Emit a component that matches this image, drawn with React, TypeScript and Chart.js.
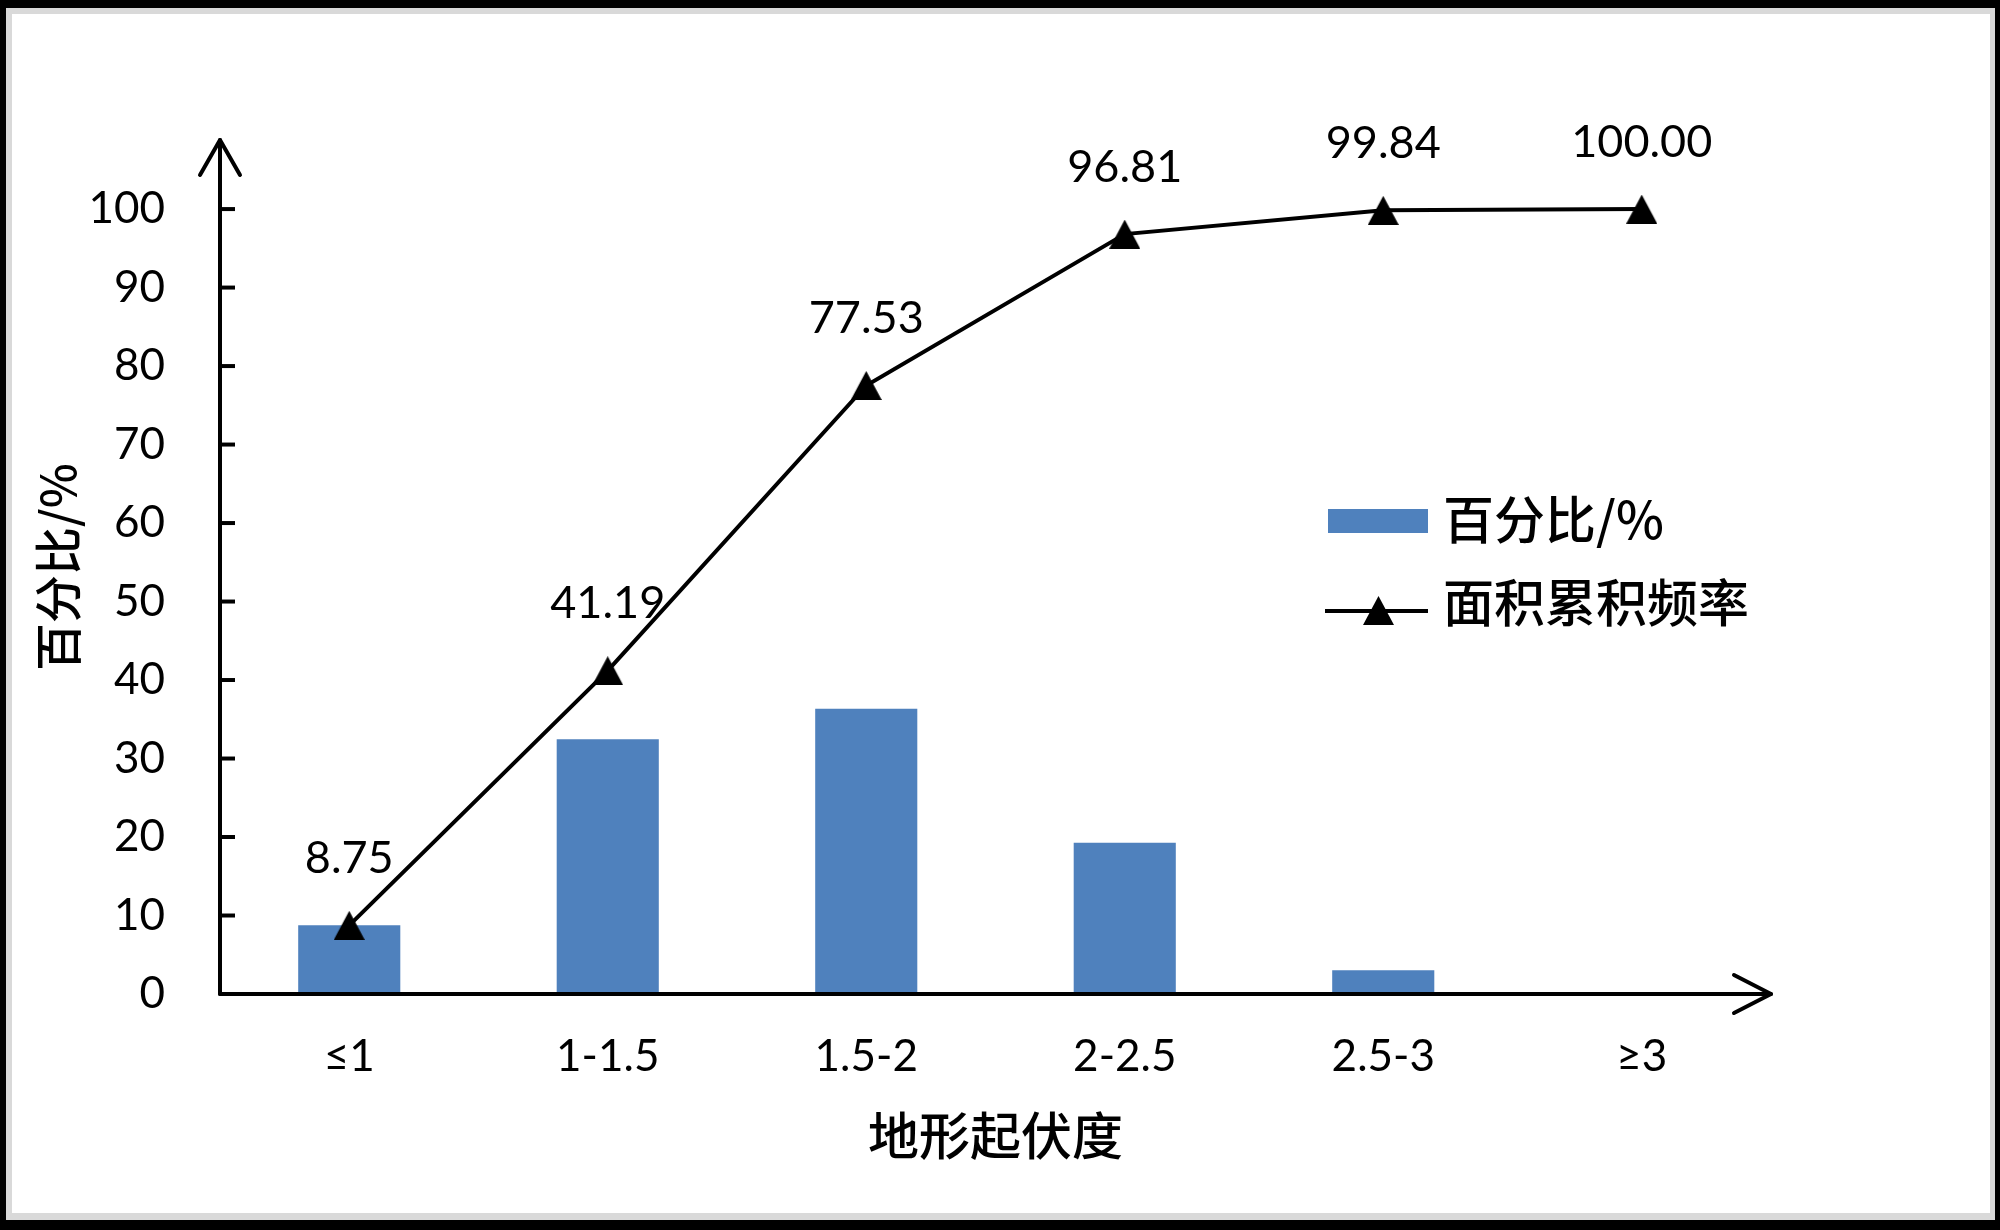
import React, { useEffect, useRef } from "react";
import { Chart, registerables } from "chart.js";

Chart.register(...registerables);

const categories = ["≤1", "1-1.5", "1.5-2", "2-2.5", "2.5-3", "≥3"];
const percentValues = [8.75, 32.44, 36.34, 19.28, 3.03, 0.16];
const cumulativeValues = [8.75, 41.19, 77.53, 96.81, 99.84, 100.0];
const cumulativeLabels = ["8.75", "41.19", "77.53", "96.81", "99.84", "100.00"];
const yTickValues = [0, 10, 20, 30, 40, 50, 60, 70, 80, 90, 100];

const barLabel = "百分比/%";
const lineLabel = "面积累积频率";
const xTitle = "地形起伏度";
const yTitle = "百分比/%";

const NUM_FONT = "Lato, 'Open Sans', sans-serif";
const CJK_FONT = "'Noto Sans CJK SC', sans-serif";
const BAR_COLOR = "#4F81BD";

function makeTriangle(w: number, h: number): HTMLCanvasElement {
  const c = document.createElement("canvas");
  c.width = w;
  c.height = h;
  const g = c.getContext("2d")!;
  g.fillStyle = "#000";
  g.beginPath();
  g.moveTo(w / 2, 0);
  g.lineTo(w, h);
  g.lineTo(0, h);
  g.closePath();
  g.fill();
  return c;
}

export default function App() {
  const ref = useRef<HTMLCanvasElement | null>(null);

  useEffect(() => {
    document.body.style.margin = "0";
    const canvas = ref.current!;
    const tri = makeTriangle(31, 29);

    const framePlugin = {
      id: "frame",
      beforeDraw(chart: any) {
        const ctx = chart.ctx;
        ctx.save();
        ctx.fillStyle = "#000";
        ctx.fillRect(0, 0, 2000, 1230);
        ctx.fillStyle = "#d9d9d9";
        ctx.fillRect(6, 8, 1989, 1212);
        ctx.fillStyle = "#fff";
        ctx.fillRect(12, 14, 1978, 1199);
        ctx.restore();
      },
    };

    const labelsPlugin = {
      id: "pointLabels",
      beforeDatasetsDraw(chart: any) {
        const ctx = chart.ctx;
        const meta = chart.getDatasetMeta(0);
        ctx.save();
        ctx.fillStyle = "#000";
        ctx.font = `45px ${NUM_FONT}`;
        ctx.textAlign = "center";
        ctx.textBaseline = "middle";
        meta.data.forEach((pt: any, i: number) => {
          ctx.fillText(cumulativeLabels[i], pt.x, pt.y - 67);
        });
        ctx.restore();
      },
    };

    const axesPlugin = {
      id: "arrowAxes",
      afterDatasetsDraw(chart: any) {
        const ctx = chart.ctx;
        const { left, right, top, bottom } = chart.chartArea;
        const y = chart.scales.y;
        ctx.save();
        ctx.strokeStyle = "#000";
        ctx.lineWidth = 4;
        ctx.lineCap = "round";
        ctx.lineJoin = "round";
        // y axis
        ctx.beginPath();
        ctx.moveTo(left, bottom);
        ctx.lineTo(left, top);
        ctx.stroke();
        ctx.beginPath();
        ctx.moveTo(left - 20, top + 35);
        ctx.lineTo(left, top);
        ctx.lineTo(left + 20, top + 35);
        ctx.stroke();
        // x axis
        ctx.beginPath();
        ctx.moveTo(left, bottom);
        ctx.lineTo(right, bottom);
        ctx.stroke();
        ctx.beginPath();
        ctx.moveTo(right - 37, bottom - 19);
        ctx.lineTo(right, bottom);
        ctx.lineTo(right - 37, bottom + 19);
        ctx.stroke();
        // y ticks
        ctx.lineCap = "butt";
        yTickValues.forEach((v) => {
          if (v === 0) return;
          const py = y.getPixelForValue(v);
          ctx.beginPath();
          ctx.moveTo(left, py);
          ctx.lineTo(left + 15, py);
          ctx.stroke();
        });
        ctx.restore();
      },
    };

    const legendPlugin = {
      id: "customLegend",
      afterDraw(chart: any) {
        const ctx = chart.ctx;
        ctx.save();
        ctx.fillStyle = BAR_COLOR;
        ctx.fillRect(1328, 509, 100, 24);
        ctx.strokeStyle = "#000";
        ctx.lineWidth = 4;
        ctx.beginPath();
        ctx.moveTo(1325, 611);
        ctx.lineTo(1428, 611);
        ctx.stroke();
        ctx.drawImage(tri, 1378 - 15, 611 - 15);
        ctx.fillStyle = "#000";
        ctx.font = `500 51px ${CJK_FONT}`;
        ctx.textAlign = "left";
        ctx.textBaseline = "middle";
        ctx.fillText(barLabel, 1443, 520);
        ctx.fillText(lineLabel, 1443, 603);
        ctx.restore();
      },
    };

    const chart = new Chart(canvas, {
      type: "bar",
      data: {
        labels: categories,
        datasets: [
          {
            type: "line",
            label: lineLabel,
            data: cumulativeValues,
            borderColor: "#000",
            borderWidth: 4,
            pointStyle: tri as any,
            pointRadius: 15,
            pointBackgroundColor: "#000",
            order: 0,
          } as any,
          {
            type: "bar",
            label: barLabel,
            data: percentValues,
            backgroundColor: BAR_COLOR,
            categoryPercentage: 0.5,
            barPercentage: 0.79,
            order: 1,
          },
        ],
      },
      options: {
        animation: false,
        responsive: false,
        devicePixelRatio: 1,
        layout: {
          autoPadding: false,
          padding: { left: 0, right: 229, top: 140, bottom: 0 },
        },
        plugins: {
          legend: { display: false },
          tooltip: { enabled: false },
        },
        scales: {
          x: {
            grid: { display: false, drawTicks: false, tickLength: 0 },
            border: { display: false },
            ticks: {
              color: "#000",
              font: { family: NUM_FONT, size: 44 },
              padding: 36,
              maxRotation: 0,
              autoSkip: false,
            },
            title: {
              display: true,
              text: xTitle,
              color: "#000",
              font: { family: CJK_FONT, size: 51, weight: "500" },
              padding: { top: 0, bottom: 64 },
            },
            afterFit: (scale: any) => {
              scale.height = 236;
            },
          },
          y: {
            min: 0,
            max: 108.8,
            grid: { display: false, drawTicks: false, tickLength: 0 },
            border: { display: false },
            ticks: {
              stepSize: 10,
              color: "#000",
              font: { family: NUM_FONT, size: 44 },
              padding: 55,
            },
            afterBuildTicks: (scale: any) => {
              scale.ticks = yTickValues.map((v) => ({ value: v }));
            },
            title: {
              display: true,
              text: yTitle,
              color: "#000",
              font: { family: CJK_FONT, size: 48, weight: "500" },
              padding: { top: 29, bottom: 0 },
            },
            afterFit: (scale: any) => {
              scale.width = 220;
            },
          },
        },
      },
      plugins: [framePlugin, labelsPlugin, axesPlugin, legendPlugin],
    });

    return () => {
      chart.destroy();
    };
  }, []);

  return (
    <canvas
      ref={ref}
      width={2000}
      height={1230}
      style={{ display: "block", width: 2000, height: 1230 }}
    />
  );
}
